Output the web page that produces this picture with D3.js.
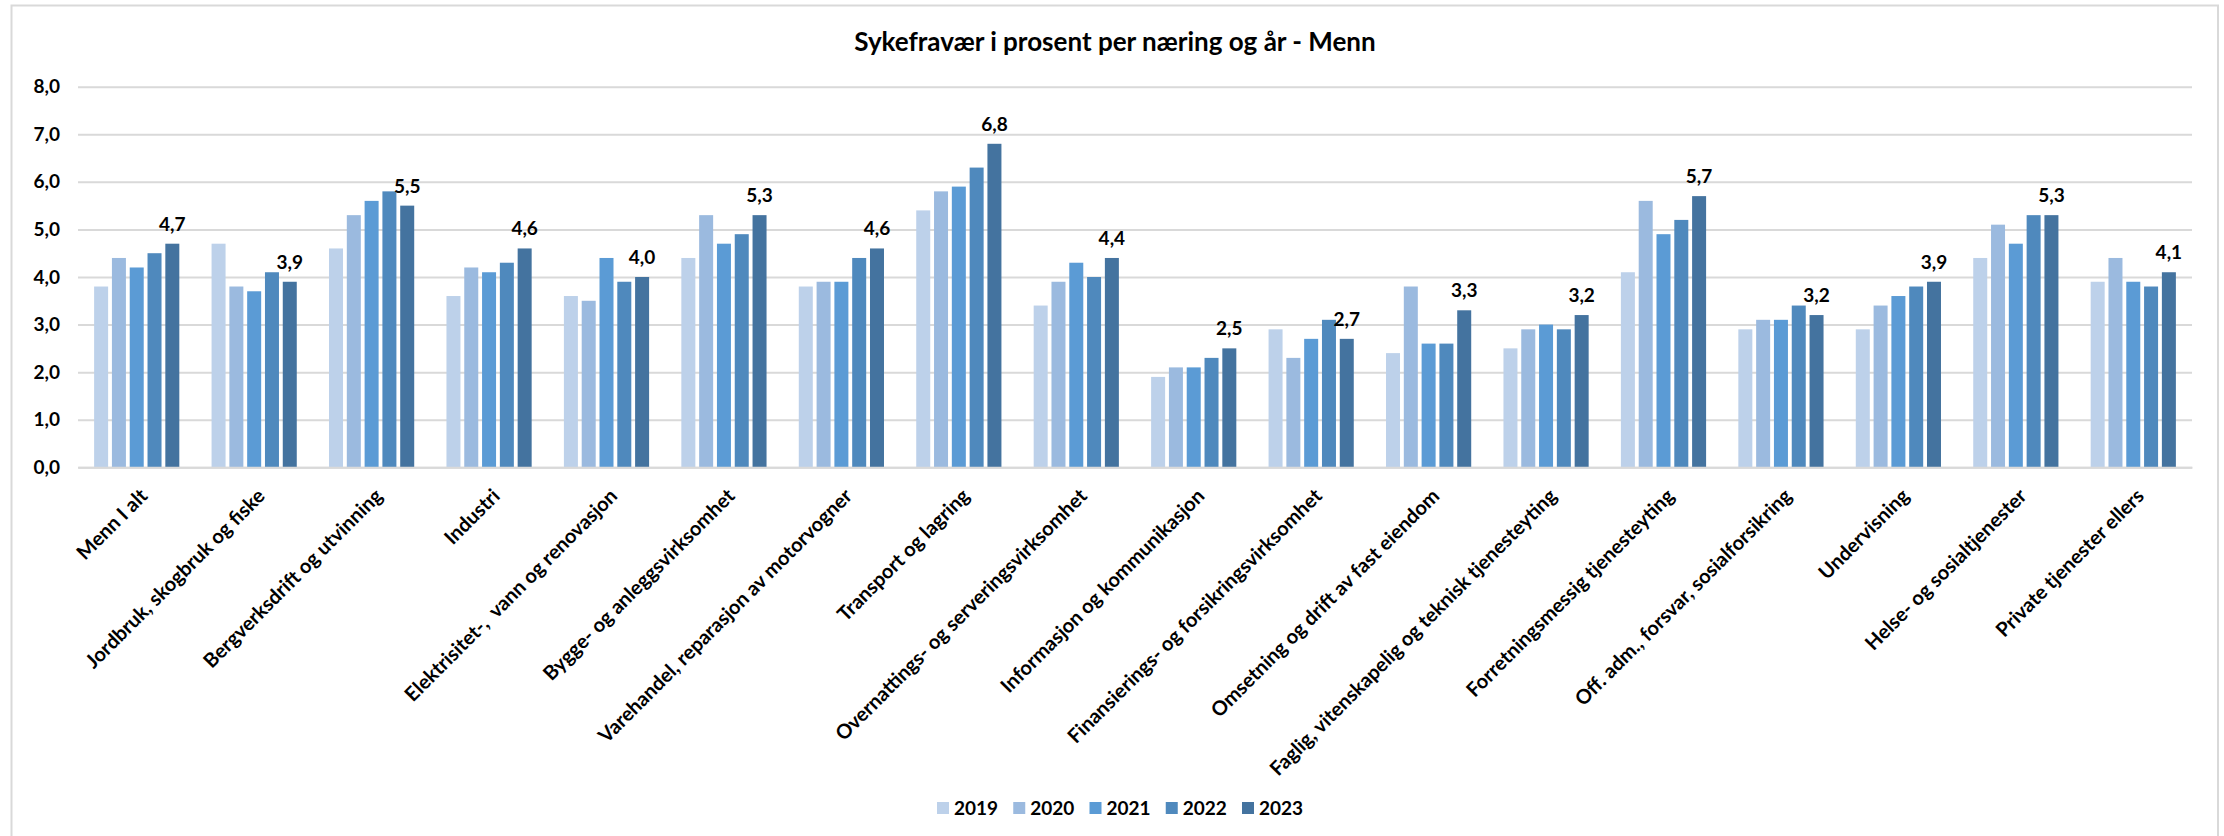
<!DOCTYPE html>
<html>
<head>
<meta charset="utf-8">
<script src="https://cdn.jsdelivr.net/npm/d3@7"></script>
<style>
  html, body { margin: 0; padding: 0; background: #ffffff; }
  svg { display: block; }
  text { font-family: Lato, "Open Sans", sans-serif; font-weight: 700; fill: #000; }
</style>
</head>
<body>
<svg id="chart" width="2224" height="836"></svg>
<script>
const title = "Sykefravær i prosent per næring og år - Menn";
const categories = [
  "Menn I alt",
  "Jordbruk, skogbruk og fiske",
  "Bergverksdrift og utvinning",
  "Industri",
  "Elektrisitet-,  vann og renovasjon",
  "Bygge- og anleggsvirksomhet",
  "Varehandel, reparasjon av motorvogner",
  "Transport og lagring",
  "Overnattings- og serveringsvirksomhet",
  "Informasjon og kommunikasjon",
  "Finansierings- og forsikringsvirksomhet",
  "Omsetning og drift av fast eiendom",
  "Faglig, vitenskapelig og teknisk tjenesteyting",
  "Forretningsmessig tjenesteyting",
  "Off. adm., forsvar, sosialforsikring",
  "Undervisning",
  "Helse- og sosialtjenester",
  "Private tjenester ellers"
];
const years = ["2019", "2020", "2021", "2022", "2023"];
const v2019 = [3.8, 4.7, 4.6, 3.6, 3.6, 4.4, 3.8, 5.4, 3.4, 1.9, 2.9, 2.4, 2.5, 4.1, 2.9, 2.9, 4.4, 3.9];
const v2020 = [4.4, 3.8, 5.3, 4.2, 3.5, 5.3, 3.9, 5.8, 3.9, 2.1, 2.3, 3.8, 2.9, 5.6, 3.1, 3.4, 5.1, 4.4];
const v2021 = [4.2, 3.7, 5.6, 4.1, 4.4, 4.7, 3.9, 5.9, 4.3, 2.1, 2.7, 2.6, 3.0, 4.9, 3.1, 3.6, 4.7, 3.9];
const v2022 = [4.5, 4.1, 5.8, 4.3, 3.9, 4.9, 4.4, 6.3, 4.0, 2.3, 3.1, 2.6, 2.9, 5.2, 3.4, 3.8, 5.3, 3.8];
const v2023 = [4.7, 3.9, 5.5, 4.6, 4.0, 5.3, 4.6, 6.8, 4.4, 2.5, 2.7, 3.3, 3.2, 5.7, 3.2, 3.9, 5.3, 4.1];
const yTicks = [0, 1, 2, 3, 4, 5, 6, 7, 8];
const colors = ["#BDD1EA", "#9BBADF", "#5B9BD5", "#4F89BD", "#44739F"];

const seriesValues = [v2019, v2020, v2021, v2022, v2023];
const table = categories.map((c, i) => ({
  cat: c,
  vals: years.map((y, k) => ({ year: y, value: seriesValues[k][i] }))
}));

const svg = d3.select("#chart");
const W = 2224, H = 836;
const plot = { left: 78, right: 2192, top: 86.7, bottom: 467.3 };

// outer border
svg.append("rect")
  .attr("x", 11.5).attr("y", 5.5)
  .attr("width", 2218 - 11.5).attr("height", H + 20)
  .attr("fill", "#fff").attr("stroke", "#D9D9D9").attr("stroke-width", 2);

// title
svg.append("text")
  .attr("x", 1115).attr("y", 51)
  .attr("text-anchor", "middle")
  .style("font-size", "26px")
  .text(title);

const y = d3.scaleLinear().domain([0, 8]).range([plot.bottom, plot.top]);
const x0 = d3.scaleBand().domain(categories).range([plot.left, plot.right]).padding(0);
const groupW = 85.2;
const x1 = d3.scaleBand().domain(years).range([0, groupW]).paddingInner(0.2135).paddingOuter(0);

// gridlines + y axis labels
const yAxis = d3.axisLeft(y).tickValues(yTicks)
  .tickSize(-(plot.right - plot.left))
  .tickPadding(18)
  .tickFormat(d => d3.format(".1f")(d).replace(".", ","));
const gy = svg.append("g").attr("transform", `translate(${plot.left},0)`).call(yAxis);
gy.select(".domain").remove();
gy.selectAll(".tick line").attr("stroke", "#D9D9D9").attr("stroke-width", 2);
gy.selectAll(".tick text")
  .style("font-size", "19px")
  .style("font-family", "Lato, sans-serif")
  .style("font-weight", "700")
  .attr("fill", "#000");

// bars
const groups = svg.append("g").selectAll("g.grp").data(table).join("g")
  .attr("class", "grp")
  .attr("transform", d => `translate(${x0(d.cat) + (x0.bandwidth() - groupW) / 2},0)`);

groups.selectAll("rect").data(d => d.vals).join("rect")
  .attr("x", d => x1(d.year))
  .attr("y", d => y(d.value))
  .attr("width", x1.bandwidth())
  .attr("height", d => y(0) - y(d.value))
  .attr("fill", (d, i) => colors[i]);

// data labels on 2023
groups.append("text")
  .attr("x", x1("2023") + x1.bandwidth() / 2)
  .attr("y", d => y(d.vals[4].value) - 13)
  .attr("text-anchor", "middle")
  .style("font-size", "19px")
  .text(d => d3.format(".1f")(d.vals[4].value).replace(".", ","));

// x axis baseline
const xAxis = d3.axisBottom(x0).tickSize(0).tickFormat("");
const gx = svg.append("g").attr("transform", `translate(0,${plot.bottom})`).call(xAxis);
gx.select(".domain").attr("stroke", "#D9D9D9").attr("stroke-width", 2);

// category labels
svg.append("g").selectAll("text").data(categories).join("text")
  .attr("transform", d => `translate(${x0(d) + x0.bandwidth() / 2 + 12},${plot.bottom + 30}) rotate(-45)`)
  .attr("text-anchor", "end")
  .style("font-size", "20px")
  .style("white-space", "pre")
  .text(d => d);

// legend
const legend = svg.append("g").attr("transform", "translate(937,802)");
const li = legend.selectAll("g").data(years).join("g")
  .attr("transform", (d, i) => `translate(${i * 76.25},0)`);
li.append("rect").attr("width", 12).attr("height", 12).attr("fill", (d, i) => colors[i]);
li.append("text").attr("x", 17).attr("y", 12.5).style("font-size", "19px").text(d => d);
</script>
</body>
</html>
